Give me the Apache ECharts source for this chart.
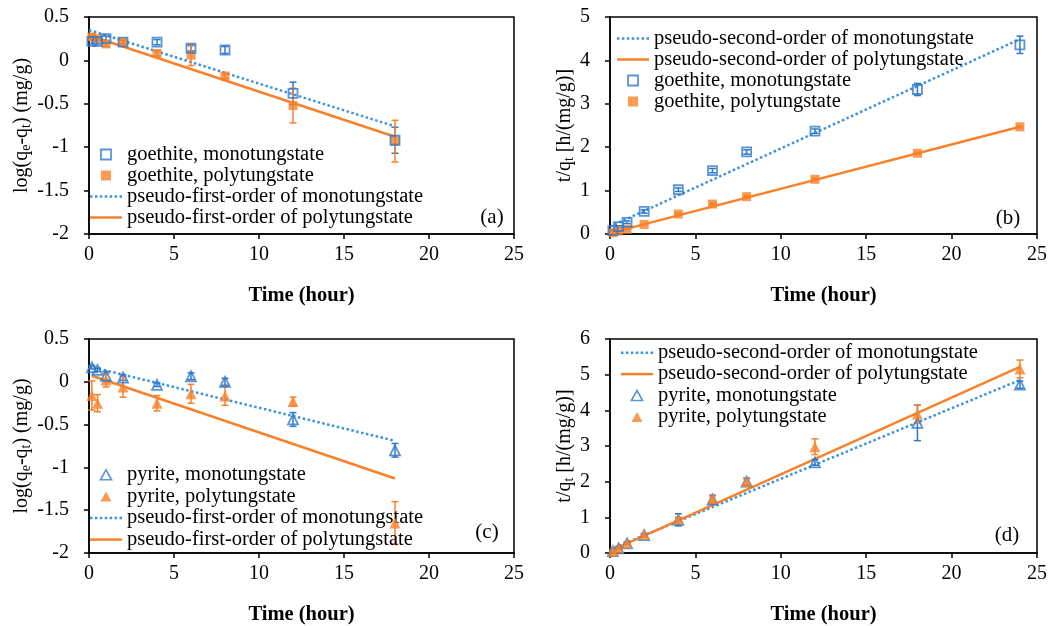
<!DOCTYPE html>
<html><head><meta charset="utf-8">
<script src="https://cdn.jsdelivr.net/npm/echarts@6/dist/echarts.min.js"></script>
<style>html,body{margin:0;padding:0;background:#fff}#c{width:1050px;height:626px}</style>
</head><body><div id="c"></div>
<script>
// ---------- data ----------
const xMin = 0, xMax = 25, xStep = 5;
const timeFirst = [0.17, 0.5, 1, 2, 4, 6, 8, 12, 18];
const timeSecond = [0.17, 0.5, 1, 2, 4, 6, 8, 12, 18, 24];

// (a) goethite, pseudo-first-order
const aMono = [0.22, 0.22, 0.25, 0.21, 0.21, 0.14, 0.12, -0.38, -0.92];
const aMonoErr = [0.03, 0.03, 0.03, 0.02, 0.03, 0.03, 0.04, 0.13, 0.15];
const aPoly = [0.27, 0.25, 0.19, 0.21, 0.08, 0.06, -0.18, -0.52, -0.93];
const aPolyErr = [0.03, 0.02, 0.03, 0.02, 0.03, 0.12, 0.03, 0.2, 0.24];
const aFitMono = [[0, 0.35], [18, -0.76]];
const aFitPoly = [[0, 0.29], [18, -0.88]];

// (b) goethite, pseudo-second-order
const bMono = [0.08, 0.17, 0.27, 0.52, 1.02, 1.46, 1.89, 2.37, 3.33, 4.36];
const bMonoErr = [0.02, 0.02, 0.03, 0.04, 0.04, 0.05, 0.05, 0.05, 0.14, 0.2];
const bPoly = [0.03, 0.07, 0.11, 0.22, 0.46, 0.69, 0.86, 1.26, 1.86, 2.47];
const bPolyErr = [0.01, 0.01, 0.01, 0.01, 0.02, 0.02, 0.02, 0.02, 0.02, 0.02];
const bFitMono = [[0, 0.17], [24, 4.49]];
const bFitPoly = [[0, 0.02], [24, 2.47]];

// (c) pyrite, pseudo-first-order
const cMono = [0.17, 0.14, 0.07, 0.05, -0.035, 0.065, 0.0, -0.44, -0.8];
const cMonoErr = [0.02, 0.02, 0.05, 0.03, 0.02, 0.04, 0.04, 0.08, 0.08];
const cPoly = [-0.16, -0.25, 0.02, -0.06, -0.25, -0.14, -0.165, -0.23, -1.65];
const cPolyErr = [0.17, 0.1, 0.08, 0.12, 0.09, 0.11, 0.11, 0.05, 0.25];
const cFitMono = [[0, 0.18], [18, -0.69]];
const cFitPoly = [[0.17, 0.07], [18, -1.13]];

// (d) pyrite, pseudo-second-order
const dMono = [0.05, 0.13, 0.27, 0.5, 0.93, 1.5, 2.0, 2.54, 3.65, 4.72];
const dMonoErr = [0.02, 0.02, 0.03, 0.04, 0.17, 0.12, 0.1, 0.08, 0.5, 0.1];
const dPoly = [0.05, 0.14, 0.28, 0.52, 0.95, 1.52, 2.0, 2.98, 3.9, 5.16];
const dPolyErr = [0.02, 0.02, 0.03, 0.03, 0.05, 0.08, 0.08, 0.22, 0.25, 0.25];
const dFitMono = [[0, 0.1], [24, 4.85]];
const dFitPoly = [[0, 0.05], [24, 5.22]];

// ---------- style ----------
const BLUE = '#2f79cc', BLUE_LINE = '#3b93e0', ORANGE = '#f7822b';
const FONT = '"Liberation Serif", "Times New Roman", serif';

const pts = (t, v) => t.map((x, i) => [x, v[i]]);
const errPts = (t, v, e) => t.map((x, i) => [x, v[i], e[i]]);

function errRender(color) {
  return function (params, api) {
    const x = api.value(0), y = api.value(1), e = api.value(2);
    const hi = api.coord([x, y + e]), lo = api.coord([x, y - e]);
    const w = 3.5, st = { stroke: color, lineWidth: 1.5 };
    return { type: 'group', children: [
      { type: 'line', shape: { x1: hi[0], y1: hi[1], x2: lo[0], y2: lo[1] }, style: st },
      { type: 'line', shape: { x1: hi[0] - w, y1: hi[1], x2: hi[0] + w, y2: hi[1] }, style: st },
      { type: 'line', shape: { x1: lo[0] - w, y1: lo[1], x2: lo[0] + w, y2: lo[1] }, style: st }
    ]};
  };
}

let dots = 'path://';
for (let i = 0; i < 7; i++) dots += 'M' + (i * 5) + ',0h2.5v2.5h-2.5z';
const SOLID = 'path://M0,0h32v2.5h-32z';
const SQUARE = 'path://M0,0H10V10H0Z';
const TRI = 'path://M5,0L10,9L0,9Z';

const grids = [
  { left: 89, top: 17, width: 425, height: 217 },
  { left: 610, top: 17, width: 427, height: 217 },
  { left: 89, top: 339, width: 425, height: 217 },
  { left: 610, top: 339, width: 427, height: 217 }
].map(g => Object.assign(g, { show: true, borderColor: '#000', borderWidth: 1.5, containLabel: false }));

const axLine = { show: true, onZero: false, lineStyle: { color: '#000', width: 1.5 } };
const axTick = { show: true, inside: false, length: 5, lineStyle: { color: '#000', width: 1.5 } };

function xAx(i) {
  return { type: 'value', gridIndex: i, min: xMin, max: xMax, interval: xStep,
    axisLine: axLine, axisTick: axTick, splitLine: { show: false },
    axisLabel: { color: '#000', fontFamily: FONT, fontSize: 20, margin: 11 },
    name: 'Time (hour)', nameLocation: 'middle', nameGap: 51,
    nameTextStyle: { color: '#000', fontFamily: FONT, fontSize: 20.5, fontWeight: 'bold' } };
}
const subRich = { sub: { fontSize: 14, fontFamily: FONT, color: '#000', padding: [9, 0, 0, 0] } };
function yAx(i, min, max, step, name, gap) {
  return { type: 'value', gridIndex: i, min: min, max: max, interval: step,
    axisLine: axLine, axisTick: axTick, splitLine: { show: false },
    axisLabel: { color: '#000', fontFamily: FONT, fontSize: 20, margin: 20 },
    name: name, nameLocation: 'middle', nameGap: gap,
    nameTextStyle: { color: '#000', fontFamily: FONT, fontSize: 20, rich: subRich } };
}

function fit(i, name, data, color, dotted) {
  return { type: 'line', name: name, xAxisIndex: i, yAxisIndex: i, data: data,
    symbol: 'none', z: 2, silent: true, color: color,
    lineStyle: { color: color, width: 2.5, type: dotted ? [2.5, 2.5] : 'solid' } };
}
function scat(i, name, data, symbol, size, hollow, color) {
  return { type: 'scatter', name: name, xAxisIndex: i, yAxisIndex: i, data: data,
    symbol: symbol, symbolSize: size, z: 4, silent: true,
    itemStyle: hollow ? { color: 'rgba(255,255,255,0)', borderColor: color, borderWidth: 1.8 }
                      : { color: color, borderWidth: 0 } };
}
function err(i, id, data, color) {
  return { type: 'custom', name: id, xAxisIndex: i, yAxisIndex: i, data: data, z: 3, silent: true,
    encode: { x: 0, y: 1 }, renderItem: errRender(color) };
}

const N = {
  gm: 'goethite, monotungstate', gp: 'goethite, polytungstate',
  pm: 'pyrite, monotungstate', pp: 'pyrite, polytungstate',
  f1m: 'pseudo-first-order of monotungstate', f1p: 'pseudo-first-order of polytungstate',
  f2m: 'pseudo-second-order of monotungstate', f2p: 'pseudo-second-order of polytungstate'
};
const LI = {
  hollowSq: { icon: SQUARE, itemStyle: { color: 'rgba(255,255,255,0)', borderColor: BLUE, borderWidth: 1.8 } },
  fillSq: { icon: SQUARE, itemStyle: { color: ORANGE, borderWidth: 0 } },
  hollowTri: { icon: TRI, itemStyle: { color: 'rgba(255,255,255,0)', borderColor: BLUE, borderWidth: 1.6 } },
  fillTri: { icon: TRI, itemStyle: { color: ORANGE, borderWidth: 0 } },
  dotted: { icon: dots, itemStyle: { color: BLUE_LINE, borderWidth: 0 } },
  solid: { icon: SOLID, itemStyle: { color: ORANGE, borderWidth: 0 } }
};
function legend(left, top, lh, items) {
  return { orient: 'vertical', left: left, top: top, padding: 0, itemGap: 0,
    itemWidth: 32, itemHeight: 10, selectedMode: false, symbolKeepAspect: true,
    textStyle: { color: '#000', fontFamily: FONT, fontSize: 20.5, lineHeight: lh },
    data: items.map(([n, k]) => Object.assign({ name: n }, LI[k])) };
}

const option = {
  animation: false,
  backgroundColor: '#fff',
  grid: grids,
  xAxis: [xAx(0), xAx(1), xAx(2), xAx(3)],
  yAxis: [
    yAx(0, -2, 0.5, 0.5, 'log(q{sub|e}-q{sub|t}) (mg/g)', 50),
    yAx(1, 0, 5, 1, 't/q{sub|t} [h/(mg/g)]', 28),
    yAx(2, -2, 0.5, 0.5, 'log(q{sub|e}-q{sub|t}) (mg/g)', 50),
    yAx(3, 0, 6, 1, 't/q{sub|t} [h/(mg/g)]', 28)
  ],
  legend: [
    legend(90, 144, 20.8, [[N.gm, 'hollowSq'], [N.gp, 'fillSq'], [N.f1m, 'dotted'], [N.f1p, 'solid']]),
    legend(617, 28, 20.8, [[N.f2m, 'dotted'], [N.f2p, 'solid'], [N.gm, 'hollowSq'], [N.gp, 'fillSq']]),
    legend(90, 464, 21.6, [[N.pm, 'hollowTri'], [N.pp, 'fillTri'], [N.f1m, 'dotted'], [N.f1p, 'solid']]),
    legend(621, 342, 21.4, [[N.f2m, 'dotted'], [N.f2p, 'solid'], [N.pm, 'hollowTri'], [N.pp, 'fillTri']])
  ],
  series: [
    fit(0, N.f1m, aFitMono, BLUE_LINE, true), fit(0, N.f1p, aFitPoly, ORANGE, false),
    err(0, 'ea1', errPts(timeFirst, aMono, aMonoErr), BLUE), err(0, 'ea2', errPts(timeFirst, aPoly, aPolyErr), ORANGE),
    scat(0, N.gp, pts(timeFirst, aPoly), 'rect', 9, false, ORANGE),
    scat(0, N.gm, pts(timeFirst, aMono), 'rect', 9, true, BLUE),

    fit(1, N.f2m, bFitMono, BLUE_LINE, true), fit(1, N.f2p, bFitPoly, ORANGE, false),
    err(1, 'eb1', errPts(timeSecond, bMono, bMonoErr), BLUE), err(1, 'eb2', errPts(timeSecond, bPoly, bPolyErr), ORANGE),
    scat(1, N.gp, pts(timeSecond, bPoly), 'rect', 9, false, ORANGE),
    scat(1, N.gm, pts(timeSecond, bMono), 'rect', 9, true, BLUE),

    fit(2, N.f1m, cFitMono, BLUE_LINE, true), fit(2, N.f1p, cFitPoly, ORANGE, false),
    err(2, 'ec1', errPts(timeFirst, cMono, cMonoErr), BLUE), err(2, 'ec2', errPts(timeFirst, cPoly, cPolyErr), ORANGE),
    scat(2, N.pp, pts(timeFirst, cPoly), 'triangle', 11, false, ORANGE),
    scat(2, N.pm, pts(timeFirst, cMono), 'triangle', 10, true, BLUE),

    fit(3, N.f2m, dFitMono, BLUE_LINE, true), fit(3, N.f2p, dFitPoly, ORANGE, false),
    err(3, 'ed1', errPts(timeSecond, dMono, dMonoErr), BLUE), err(3, 'ed2', errPts(timeSecond, dPoly, dPolyErr), ORANGE),
    scat(3, N.pm, pts(timeSecond, dMono), 'triangle', 10, true, BLUE),
    scat(3, N.pp, pts(timeSecond, dPoly), 'triangle', 11, false, ORANGE)
  ],
  graphic: [
    { type: 'text', x: 492, y: 217, style: { text: '(a)', fontSize: 21, fontFamily: FONT, fill: '#000', align: 'center', verticalAlign: 'middle' } },
    { type: 'text', x: 1008, y: 218, style: { text: '(b)', fontSize: 21, fontFamily: FONT, fill: '#000', align: 'center', verticalAlign: 'middle' } },
    { type: 'text', x: 487, y: 532, style: { text: '(c)', fontSize: 21, fontFamily: FONT, fill: '#000', align: 'center', verticalAlign: 'middle' } },
    { type: 'text', x: 1007, y: 535, style: { text: '(d)', fontSize: 21, fontFamily: FONT, fill: '#000', align: 'center', verticalAlign: 'middle' } }
  ]
};
const chart = echarts.init(document.getElementById('c'), null, { renderer: 'canvas' });
chart.setOption(option);
</script></body></html>
